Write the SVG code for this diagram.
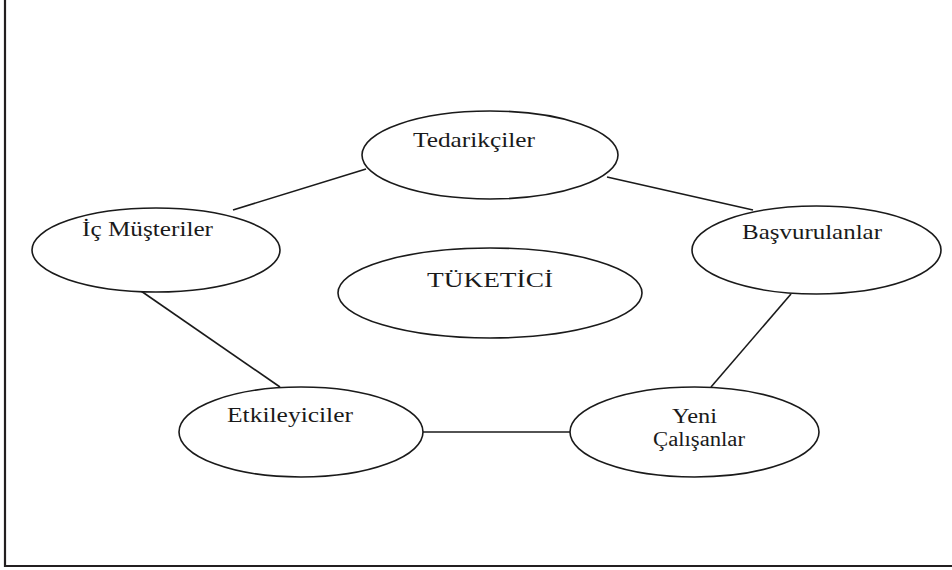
<svg xmlns="http://www.w3.org/2000/svg" width="952" height="570" viewBox="0 0 952 570">
<style>
.node ellipse{fill:#fff;stroke:#1a1a1a;stroke-width:1.6}
.node text{font-family:"Liberation Serif","Times New Roman",serif;font-size:21px;fill:#1a1a1a}
.node text.sm{font-size:20px}
.conn line{stroke:#1a1a1a;stroke-width:1.6}
.frame{fill:none;stroke:#231f20;stroke-width:2.2}
</style>
<rect width="952" height="570" fill="#fff"/>
<polyline class="frame" points="5,0 5,566 952,566"/>
<g id="connectors" class="conn">
<line x1="233" y1="210" x2="366" y2="169"/>
<line x1="607" y1="177" x2="753" y2="210"/>
<line x1="141" y1="291" x2="280" y2="387"/>
<line x1="791" y1="294" x2="711" y2="387"/>
<line x1="423" y1="432" x2="570" y2="432"/>
</g>
<g id="tedarikciler" class="node">
<ellipse cx="490" cy="155" rx="128" ry="44"/>
<text x="413" y="147" textLength="122" lengthAdjust="spacingAndGlyphs">Tedarikçiler</text>
</g>
<g id="ic-musteriler" class="node">
<ellipse cx="156" cy="250" rx="124" ry="42"/>
<text x="82" y="236" textLength="131" lengthAdjust="spacingAndGlyphs">İç Müşteriler</text>
</g>
<g id="basvurulanlar" class="node">
<ellipse cx="816.5" cy="250" rx="124.5" ry="44"/>
<text x="742" y="239" textLength="140" lengthAdjust="spacingAndGlyphs">Başvurulanlar</text>
</g>
<g id="tuketici" class="node">
<ellipse cx="490" cy="293" rx="152" ry="45"/>
<text x="427" y="287" textLength="126" lengthAdjust="spacingAndGlyphs">TÜKETİCİ</text>
</g>
<g id="etkileyiciler" class="node">
<ellipse cx="301" cy="432" rx="122" ry="45"/>
<text x="227" y="422" textLength="126" lengthAdjust="spacingAndGlyphs">Etkileyiciler</text>
</g>
<g id="yeni-calisanlar" class="node">
<ellipse cx="694.5" cy="432" rx="124.5" ry="45"/>
<text class="sm" x="672" y="423" textLength="45" lengthAdjust="spacingAndGlyphs">Yeni</text>
<text class="sm" x="653" y="446" textLength="92" lengthAdjust="spacingAndGlyphs">Çalışanlar</text>
</g>
</svg>
